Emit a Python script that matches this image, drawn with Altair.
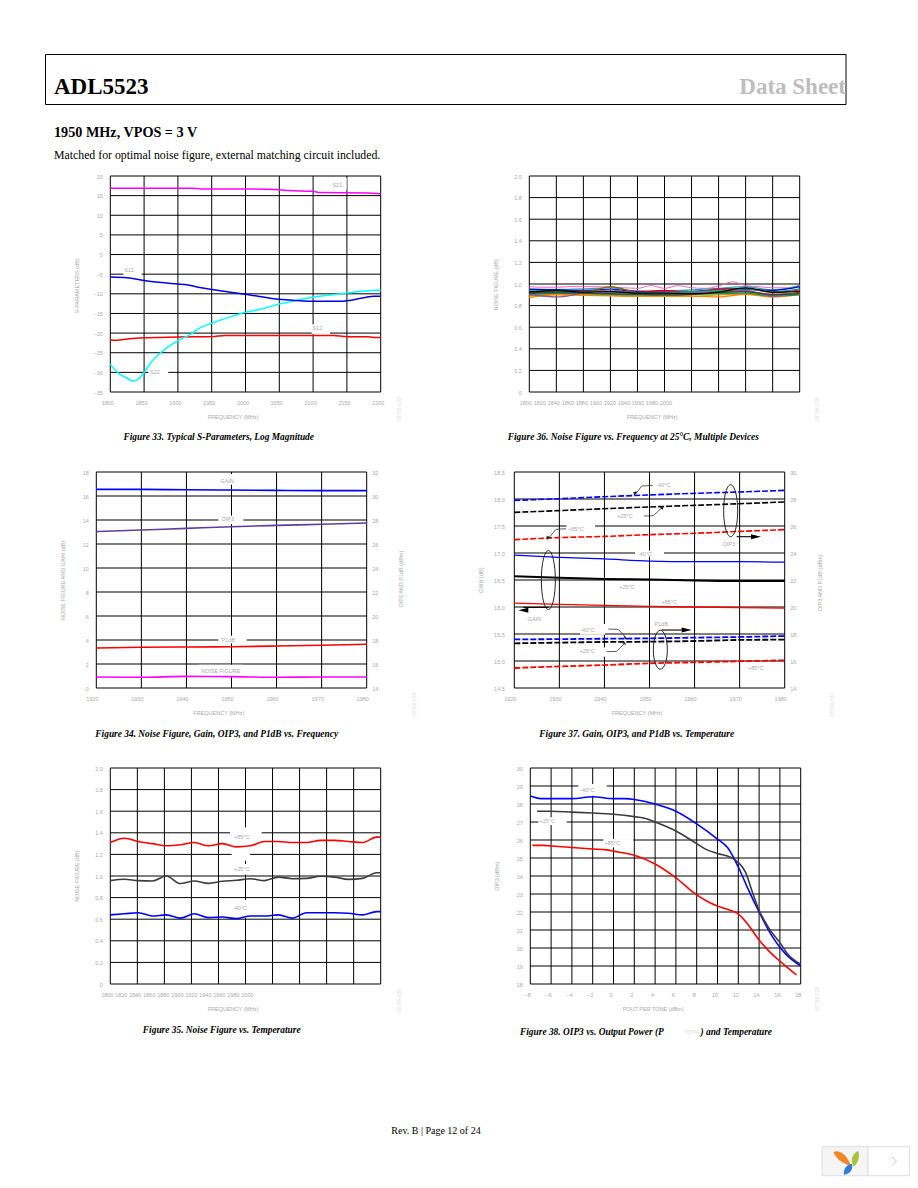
import altair as alt
import pandas as pd

# ---------- data ----------
s_x_s21 = [1800, 1920, 1935, 2000, 2050, 2065, 2100, 2110, 2180, 2200]
s21 = [16.9, 16.9, 16.7, 16.7, 16.5, 16.3, 16.1, 15.8, 15.7, 15.5]
s_x_s11 = [1800, 1825, 1850, 1875, 1900, 1910, 1930, 1950, 2000, 2050, 2075, 2100, 2140, 2175, 2190, 2200]
s11 = [-5.7, -5.9, -6.6, -7.1, -7.5, -7.6, -8.3, -8.9, -10.1, -11.4, -11.7, -11.9, -11.9, -11.0, -10.6, -10.6]
s_x_s22 = [1800, 1812, 1825, 1832, 1840, 1850, 1860, 1875, 1900, 1920, 1930, 1950, 1975, 2000, 2025, 2050, 2075, 2100, 2150, 2175, 2200]
s22 = [-27.9, -30.2, -31.5, -32.2, -31.9, -30.0, -27.5, -24.9, -21.9, -20.2, -18.9, -17.5, -16.0, -14.7, -13.8, -12.6, -11.7, -10.9, -9.8, -9.3, -9.0]
s_x_s12 = [1800, 1810, 1825, 1850, 1875, 1900, 1950, 1970, 2000, 2100, 2130, 2150, 2180, 2190, 2200]
s12 = [-21.8, -21.8, -21.5, -21.2, -21.1, -21.0, -20.9, -20.6, -20.6, -20.6, -20.6, -20.9, -20.9, -21.1, -21.1]

nf_x = [1800, 1839, 1877, 1916, 1954, 1993, 2032, 2070, 2109, 2147, 2186]
nf_series = [
    ("#e0a000", [.875, .900, .895, .890, .885, .885, .885, .900, .905, .890, .910]),
    ("#ff7f00", [.890, .905, .900, .895, .890, .895, .890, .880, .905, .880, .905]),
    ("#00a050", [.900, .915, .910, .905, .900, .900, .905, .910, .915, .890, .900]),
    ("#30a0c0", [.955, .950, .955, .965, .935, .935, .945, .960, .975, .945, .985]),
    ("#0000c0", [.950, .945, .940, .950, .930, .925, .930, .945, .950, .940, .975]),
    ("#e00000", [.930, .925, .935, .930, .925, .940, .920, .955, .960, .920, .945]),
    ("#8060a0", [.905, .880, .915, .945, .910, .905, .915, .935, .940, .885, .925]),
    ("#806000", [.915, .930, .920, .975, .920, .905, .930, .930, .930, .905, .915]),
    ("#20a0a0", [.940, .935, .930, .925, .915, .920, .925, .940, .955, .930, .955]),
    ("#404040", [.910, .920, .915, .910, .905, .900, .905, .920, .930, .900, .910]),
    ("#000000", [.925, .940, .925, .930, .915, .915, .910, .925, .965, .925, .930]),
]
nf_pink_x = [1800, 1819, 1839, 1858, 1877, 1896, 1916, 1935, 1954, 1974, 1993, 2012, 2032, 2051, 2070, 2090, 2109, 2128, 2147, 2167, 2186]
nf_pink = [.975, .97, .97, .975, .975, .975, .97, .965, .96, .985, .96, .985, .965, .96, .98, 1.02, .985, .975, .965, .965, .985]

f_x = [1920, 1930, 1940, 1950, 1960, 1970, 1980]
f_gain = [16.55, 16.55, 16.52, 16.50, 16.47, 16.45, 16.45]
f_oip3 = [27.03, 27.17, 27.30, 27.44, 27.55, 27.64, 27.75]
f_p1db = [17.33, 17.39, 17.42, 17.44, 17.50, 17.56, 17.64]
f_nf = [.92, .89, .97, .95, .89, .92, .92]

t_oip3_m40 = [27.90, 28.02, 28.17, 28.30, 28.42, 28.52, 28.64]
t_oip3_25 = [27.01, 27.14, 27.28, 27.41, 27.53, 27.65, 27.78]
t_oip3_85 = [24.99, 25.14, 25.23, 25.36, 25.46, 25.60, 25.73]
t_gain_m40 = [16.96, 16.92, 16.89, 16.85, 16.84, 16.84, 16.83]
t_gain_25 = [16.57, 16.54, 16.52, 16.51, 16.49, 16.48, 16.48]
t_gain_85 = [16.07, 16.05, 16.03, 16.01, 16.00, 15.99, 15.98]
t_p1_m40 = [17.60, 17.62, 17.65, 17.68, 17.73, 17.78, 17.85]
t_p1_25 = [17.31, 17.36, 17.41, 17.43, 17.48, 17.56, 17.58]
t_p1_85 = [15.48, 15.60, 15.70, 15.83, 15.90, 15.98, 16.05]

n_x = [1800, 1820, 1840, 1860, 1880, 1900, 1920, 1940, 1960, 1980, 2000, 2020, 2040, 2060, 2080, 2100, 2120, 2140, 2160, 2180, 2186]
n_85 = [1.31, 1.35, 1.32, 1.30, 1.28, 1.29, 1.31, 1.28, 1.30, 1.27, 1.28, 1.32, 1.32, 1.31, 1.31, 1.33, 1.33, 1.32, 1.31, 1.36, 1.36]
n_25 = [.957, .97, .957, .954, 1.0, .93, .954, .932, .951, .96, .975, .957, .99, .975, .978, .997, .99, .969, .978, 1.03, 1.03]
n_m40 = [.64, .65, .66, .63, .64, .61, .65, .615, .62, .605, .63, .63, .64, .61, .66, .66, .66, .655, .64, .67, .67]

o_x_b = [-8, -7, -6, -4, -2, 0, 1.2, 2, 4, 6, 8, 10, 11, 12, 13, 14, 15, 16.5, 18]
o_b = [28.44, 28.3, 28.3, 28.3, 28.4, 28.3, 28.3, 28.25, 28.0, 27.6, 26.9, 26.05, 25.55, 24.5, 23.2, 22.0, 20.9, 19.7, 19.0]
o_x_k = [-7.35, -6, -4, -2, 0, 2, 3.1, 4, 6, 8, 9, 10, 11.4, 12, 12.7, 13.3, 14, 15, 16, 16.7, 18]
o_k = [27.6, 27.6, 27.55, 27.5, 27.43, 27.3, 27.2, 27.0, 26.5, 25.8, 25.45, 25.25, 25.0, 24.75, 24.2, 23.2, 22.1, 21.05, 20.3, 19.7, 19.1]
o_x_r = [-7.8, -6.75, -6, -4, -2, -.65, 0, 2, 4, 6, 8, 9, 10, 11.2, 12, 13, 14, 15, 16, 17.6]
o_r = [25.7, 25.7, 25.67, 25.58, 25.5, 25.45, 25.38, 25.15, 24.67, 23.9, 22.95, 22.6, 22.33, 22.1, 21.9, 21.25, 20.45, 19.8, 19.27, 18.5]

# ---------- page geometry ----------
COLX = [8.0, 459.0]
COLW = [451, 451]
ROWY = [8.0, 175.7, 471.3, 767.3]
ROWH = [167.7, 295.6, 296.0, 408.7]
GREY = "#a8a8a8"
SANS = "Liberation Sans"
SERIF = "Liberation Serif"


def df(**kw):
    return pd.DataFrame(kw)


class Panel:
    def __init__(self, col, row, left, top, xd, yd, ryd=None):
        self.cx, self.cy = COLX[col], ROWY[row]
        self.W, self.H = COLW[col], ROWH[row]
        self.L = left - self.cx
        self.R = self.L + 270.4
        self.T = top - self.cy
        self.B = self.T + 216
        self.xs = alt.Scale(domain=xd, range=[self.L, self.R], nice=False, zero=False)
        self.ys = alt.Scale(domain=yd, range=[self.B, self.T], nice=False, zero=False)
        self.rs = None
        if ryd:
            self.rs = alt.Scale(domain=ryd, range=[self.B, self.T], nice=False, zero=False)
        self.layers = []

    def grid(self, xg, yg, xticks, yticks, xtitle, ytitle, xpos, ypos, xfmt="d", yexpr=None,
             lab_dx=-4, gap=8):
        base = dict(ticks=False, domain=False, grid=False, labelFont=SANS, labelFontSize=5.5,
                    labelColor=GREY, labelOverlap=False, labelFlush=False, labelBound=False,
                    titleFont=SANS, titleFontSize=5.5, titleColor=GREY, titleFontWeight="normal",
                    titleBaseline="middle", titleAlign="center")
        xa = alt.Axis(orient="bottom", values=xticks, offset=-(self.H - self.B), labelPadding=10.5,
                      labelBaseline="middle", labelOffset=lab_dx, format=xfmt, title=xtitle,
                      titleX=xpos[0] - self.cx, titleY=xpos[1] - (self.cy + self.B),
                      titleAngle=0, **base)
        ykw = dict(labelExpr=yexpr) if yexpr else dict(format="d")
        ya = alt.Axis(orient="left", values=yticks, offset=-(self.L - gap), labelPadding=0,
                      labelBaseline="middle", title=ytitle, titleAngle=270,
                      titleX=ypos[0] - (self.cx + self.L - gap), titleY=ypos[1] - self.cy,
                      **ykw, **base)
        self.base = base
        self.layers.append(alt.Chart(df(g=xg)).mark_rule(color="black", strokeWidth=1).encode(
            x=alt.X("g:Q", scale=self.xs, axis=xa), y=alt.value(self.T), y2=alt.value(self.B)))
        self.layers.append(alt.Chart(df(g=yg)).mark_rule(color="black", strokeWidth=1).encode(
            y=alt.Y("g:Q", scale=self.ys, axis=ya), x=alt.value(self.L), x2=alt.value(self.R)))

    def right_axis(self, ticks, title, pos, gap=5):
        return alt.Axis(orient="right", values=ticks, offset=-(self.W - self.R) + gap, labelPadding=0,
                        labelBaseline="middle", format="d", title=title, titleAngle=270,
                        titleX=pos[0] - (self.cx + self.R + gap), titleY=pos[1] - self.cy, **self.base)

    def patches(self, boxes):
        if boxes:
            self.layers.append(alt.Chart(df(
                x1=[b[0] - self.cx for b in boxes], x2=[b[2] - self.cx for b in boxes],
                y1=[b[1] - self.cy for b in boxes], y2=[b[3] - self.cy for b in boxes]
            )).mark_rect(color="white").encode(
                x=alt.X("x1:Q", scale=None, axis=None), x2="x2:Q",
                y=alt.Y("y1:Q", scale=None, axis=None), y2="y2:Q"))

    def line(self, xv, yv, color, width=1.5, dash=None, right=False, axis=None, interp="monotone"):
        kw = dict(color=color, strokeWidth=width, interpolate=interp)
        if dash:
            kw["strokeDash"] = dash
        self.layers.append(alt.Chart(df(x=xv, y=yv)).mark_line(**kw).encode(
            x=alt.X("x:Q", scale=self.xs, axis=None),
            y=alt.Y("y:Q", scale=self.rs if right else self.ys, axis=axis)))

    def texts(self, items, size=5.5, color=GREY, font=SANS, align="center", angle=None,
              style=None, weight=None, baseline="middle"):
        kw = dict(font=font, fontSize=size, color=color, align=align, baseline=baseline)
        if angle is not None:
            kw["angle"] = angle
        if style:
            kw["fontStyle"] = style
        if weight:
            kw["fontWeight"] = weight
        self.layers.append(alt.Chart(df(
            t=[i[0] for i in items],
            px=[i[1] - self.cx for i in items], py=[i[2] - self.cy for i in items]
        )).mark_text(**kw).encode(
            x=alt.X("px:Q", scale=None, axis=None), y=alt.Y("py:Q", scale=None, axis=None),
            text="t:N"))

    def pline(self, pts, color="black", width=1.0):
        self.layers.append(alt.Chart(df(
            px=[p[0] - self.cx for p in pts], py=[p[1] - self.cy for p in pts], o=list(range(len(pts)))
        )).mark_line(color=color, strokeWidth=width).encode(
            x=alt.X("px:Q", scale=None, axis=None), y=alt.Y("py:Q", scale=None, axis=None), order="o:Q"))

    def shape(self, page_x, page_y, path, fill=None, stroke=None, width=1.0):
        kw = dict(shape=path, size=4, filled=fill is not None, opacity=1)
        if fill:
            kw["fill"] = fill
        else:
            kw["fill"] = "transparent"
        if stroke:
            kw["stroke"] = stroke
            kw["strokeWidth"] = width
        else:
            kw["strokeWidth"] = 0
        self.layers.append(alt.Chart(df(px=[page_x - self.cx], py=[page_y - self.cy])).mark_point(**kw).encode(
            x=alt.X("px:Q", scale=None, axis=None), y=alt.Y("py:Q", scale=None, axis=None)))

    def chart(self):
        return alt.layer(*self.layers).resolve_scale(x="independent", y="independent").properties(
            width=self.W, height=self.H)


def zoomer(ox, oy):
    return lambda zx, zy: (ox + zx / 3, oy + zy / 3)


def zbox(z, a, b, c, d):
    return z(a, b) + z(c, d)


def ztext(z, t, a, b):
    return (t,) + z(a, b)


def ellipse(w, h):
    return f"M{-w/2},0A{w/2},{h/2} 0 1,1 {w/2},0A{w/2},{h/2} 0 1,1 {-w/2},0Z"


FREQ = "FREQUENCY (MHz)"
fmt2 = "datum.value==0?'0':format(datum.value,'.1f')"
fmt1 = "format(datum.value,'.1f')"

# ---------- header cells ----------
h1 = Panel(0, 0, 110, 200, [0, 1], [0, 1])
h1.layers.append(alt.Chart(df(a=[0])).mark_rect(fill="transparent", stroke="black", strokeWidth=1).encode(
    x=alt.value(45.5 - 8), x2=alt.value(846 - 8), y=alt.value(54.5 - 8), y2=alt.value(104.5 - 8)))
h1.texts([("ADL5523", 54, 94.3)], size=23, color="black", font=SERIF, align="left", weight="bold", baseline="alphabetic")
h1.texts([("1950 MHz, VPOS = 3 V", 54, 136.7)], size=14.2, color="black", font=SERIF, align="left", weight="bold", baseline="alphabetic")
h1.texts([("Matched for optimal noise figure, external matching circuit included.", 54, 159)],
         size=11.8, color="black", font=SERIF, align="left", baseline="alphabetic")
h2 = Panel(1, 0, 530, 200, [0, 1], [0, 1])
h2.texts([("Data Sheet", 846, 94.3)], size=23, color="#bdbdbd", font=SERIF, align="right", weight="bold", baseline="alphabetic")

CAP = dict(size=9.4, color="black", font=SERIF, style="italic", weight="bold")

# ---------- Figure 33 ----------
z = zoomer(40, 50)
p1 = Panel(0, 1, 110.3, 175.7, [1800, 2200], [-35, 20])
p1.grid(list(range(1800, 2201, 50)), list(range(-35, 21, 5)), list(range(1800, 2201, 50)),
        list(range(-35, 21, 5)), FREQ, "S-PARAMETERS (dB)", (232.7, 415.7), (76, 285), lab_dx=-3)
p1.patches([zbox(z, 876, 383, 920, 418), zbox(z, 250, 650, 305, 676), zbox(z, 815, 822, 870, 851), zbox(z, 325, 955, 385, 978)])
p1.line(s_x_s21, s21, "#ff00ff")
p1.line(s_x_s12, s12, "#ff0000")
p1.line(s_x_s22, s22, "#00ffff")
p1.line(s_x_s11, s11, "#0000e0")
p1.texts([ztext(z, "S21", 892, 405), ztext(z, "S11", 267, 660), ztext(z, "S12", 832, 834), ztext(z, "S22", 345, 966)])
p1.texts([("Figure 33. Typical S-Parameters, Log Magnitude", 218.7, 436.7)], **CAP)
p1.texts([("08769-033", 399, 409)], size=5, color="#dddddd", angle=270)

# ---------- Figure 36 ----------
p2 = Panel(1, 1, 529.3, 175.7, [1800, 2186], [0, 2])
p2.grid([1800 + 38.6 * i for i in range(11)], [i / 5 for i in range(11)], list(range(1800, 2001, 20)),
        [i / 5 for i in range(11)], FREQ, "NOISE FIGURE (dB)", (651.7, 415.7), (495.3, 284), yexpr=fmt2, lab_dx=-4)
p2.line(nf_pink_x, nf_pink, "#ff60c0", width=1)
for col, vals in nf_series:
    p2.line(nf_x, vals, col, width=1.3)
p2.texts([("Figure 36. Noise Figure vs. Frequency at 25°C, Multiple Devices", 633.3, 436.7)], **CAP)
p2.texts([("08769-036", 816.7, 409)], size=5, color="#dddddd", angle=270)

# ---------- Figure 34 ----------
z = zoomer(50, 460)
p3 = Panel(0, 2, 96.3, 471.3, [1920, 1980], [0, 18], [14, 32])
p3.grid(f_x, list(range(0, 19, 2)), f_x, list(range(0, 19, 2)), FREQ, "NOISE FIGURE AND GAIN (dB)",
        (218.3, 712), (62.3, 579.3), lab_dx=-4.5)
p3.patches([zbox(z, 505, 40, 580, 72), zbox(z, 505, 165, 580, 190), zbox(z, 505, 525, 590, 548), zbox(z, 445, 612, 580, 646)])
p3.line(f_x, f_gain, "#0000ff", width=1.6)
p3.line(f_x, f_oip3, "#5b3f9e", width=1.6, right=True,
        axis=p3.right_axis(list(range(14, 33, 2)), "OIP3 AND P1dB (dBm)", (400.7, 578)))
p3.line(f_x, f_p1db, "#ff0000", width=1.6, right=True)
p3.line(f_x, f_nf, "#ff00ff", width=1.6)
p3.texts([ztext(z, "GAIN", 532, 62), ztext(z, "OIP3", 533, 176), ztext(z, "P1dB", 535, 537), ztext(z, "NOISE FIGURE", 512, 630)])
p3.texts([("Figure 34. Noise Figure, Gain, OIP3, and P1dB vs. Frequency", 216.7, 733)], **CAP)
p3.texts([("08769-034", 414, 704)], size=5, color="#dddddd", angle=270)

# ---------- Figure 37 ----------
z = zoomer(470, 460)
p4 = Panel(1, 2, 514.3, 471.3, [1920, 1980], [14.5, 18.5], [14, 30])
p4.grid(f_x, [14.5 + .5 * i for i in range(9)], f_x, [14.5 + .5 * i for i in range(9)], FREQ, "GAIN (dB)",
        (636.7, 712), (480, 579), yexpr=fmt1, lab_dx=-4.5, gap=10)
p4.patches([zbox(z, 290, 190, 375, 214), zbox(z, 495, 270, 582, 288), zbox(z, 755, 238, 800, 260),
            zbox(z, 330, 490, 405, 522), zbox(z, 330, 560, 405, 588)])
D = [6, 2]
p4.line(f_x, t_oip3_m40, "#0000ff", dash=D, width=1.6, right=True,
        axis=p4.right_axis(list(range(14, 31, 2)), "OIP3 AND P1dB (dBm)", (819, 581.7)))
p4.line(f_x, t_oip3_25, "#000000", dash=D, width=1.6, right=True)
p4.line(f_x, t_oip3_85, "#ff0000", dash=D, width=1.6, right=True)
p4.line(f_x, t_gain_m40, "#0000ff", width=1.3)
p4.line(f_x, t_gain_25, "#000000", width=2)
p4.line(f_x, t_gain_85, "#ff0000", width=1.3)
p4.line(f_x, t_p1_m40, "#0000ff", dash=D, width=1.8, right=True)
p4.line(f_x, t_p1_25, "#000000", dash=D, width=1.8, right=True)
p4.line(f_x, t_p1_85, "#ff0000", dash=D, width=1.8, right=True)
for cx_, cy_, h_ in [(782, 150, 52), (235, 358, 59), (571, 567, 39)]:
    a, b = z(cx_, cy_)
    p4.shape(a, b, ellipse(14, h_), stroke="#202020", width=1)
TR = "M-5,-2.5L5,0L-5,2.5Z"
TL = "M5,-2.5L-5,0L5,2.5Z"
for pts, hd, sh in [([(800, 228), (850, 228)], (858, 228), TR), ([(575, 508), (640, 508)], (650, 508), TR),
                    ([(236, 440), (160, 440)], (160, 449), TL)]:
    p4.pline([z(*q) for q in pts], width=1.1)
    a, b = z(*hd)
    p4.shape(a, b, sh, fill="black")
for pts, hd, sh in [([(548, 74), (515, 76), (497, 100)], (496, 100), "M-2,-2L2,-2.5L-1,2Z"),
                    ([(522, 166), (550, 165), (575, 142)], (575, 142), "M2,-2L-2,-1L1,2Z"),
                    ([(288, 204), (258, 206), (236, 232)], (236, 232), "M-2,-2L2,-1L-2,2Z"),
                    ([(415, 505), (445, 506), (467, 530)], (467, 530), "M-2,-2L2,2L-1,2Z"),
                    ([(410, 573), (440, 572), (462, 550)], (462, 550), "M1,-2L2,1L-2,-1Z")]:
    p4.pline([z(*q) for q in pts], color="#303030", width=0.8)
    a, b = z(*hd)
    p4.shape(a, b, sh, fill="#202020")
p4.texts([ztext(z, t, a, b) for t, a, b in [
    ("-40°C", 580, 74), ("+25°C", 465, 165), ("+85°C", 318, 204), ("-40°C", 525, 279), ("+25°C", 470, 378),
    ("+85°C", 598, 423), ("GAIN", 193, 474), ("OIP3", 777, 249), ("P1dB", 574, 489), ("-40°C", 352, 507),
    ("+25°C", 352, 572), ("+85°C", 857, 623)]])
p4.texts([("Figure 37. Gain, OIP3, and P1dB vs. Temperature", 636.7, 733)], **CAP)
p4.texts([("08769-037", 831.7, 704)], size=5, color="#dddddd", angle=270)

# ---------- Figure 35 ----------
z = zoomer(50, 755)
p5 = Panel(0, 3, 110.3, 767.3, [1800, 2186], [0, 2])
p5.grid([1800 + 38.6 * i for i in range(11)], [i / 5 for i in range(11)], list(range(1800, 2001, 20)),
        [i / 5 for i in range(11)], FREQ, "NOISE FIGURE (dB)", (232.7, 1008), (76, 875), yexpr=fmt2, lab_dx=-3.5)
p5.patches([zbox(z, 540, 215, 635, 262), zbox(z, 545, 262, 600, 315), zbox(z, 545, 325, 600, 357), zbox(z, 545, 433, 600, 487)])
p5.line(n_x, n_85, "#ff0000", width=1.6)
p5.line(n_x, n_25, "#3c3c3c", width=1.6)
p5.line(n_x, n_m40, "#0000ff", width=1.6)
p5.texts([ztext(z, "+85°C", 575, 243), ztext(z, "+25°C", 575, 340), ztext(z, "-40°C", 570, 458)])
p5.texts([("Figure 35. Noise Figure vs. Temperature", 221.7, 1029)], **CAP)
p5.texts([("08769-035", 399, 1000)], size=5, color="#dddddd", angle=270)
p5.texts([("Rev. B | Page 12 of 24", 436, 1130.7)], size=10, color="black", font=SERIF)

# ---------- Figure 38 ----------
z = zoomer(470, 755)
p6 = Panel(1, 3, 530.3, 767.3, [-8, 18], [18, 30])
p6.grid(list(range(-8, 19, 2)), list(range(18, 31)), list(range(-8, 19, 2)), list(range(18, 31)),
        "POUT PER TONE (dBm)", "OIP3 (dBm)", (652.7, 1008), (496, 875), lab_dx=-3)
p6.patches([zbox(z, 325, 85, 410, 120), zbox(z, 205, 185, 290, 208), zbox(z, 400, 250, 490, 275)])
p6.line(o_x_b, o_b, "#0000ff", width=1.6)
p6.line(o_x_k, o_k, "#3c3c3c", width=1.6)
p6.line(o_x_r, o_r, "#ff0000", width=1.6)
p6.texts([ztext(z, "-40°C", 352, 104), ztext(z, "+25°C", 232, 195), ztext(z, "+85°C", 427, 263)])
p6.texts([("Figure 38. OIP3 vs. Output Power (P", 520, 1031)], align="left", **CAP)
p6.texts([("TOTAL", 692, 1031)], size=5, color="#dddddd")
p6.texts([(") and Temperature", 700.5, 1031)], align="left", **CAP)
p6.texts([("08769-038", 816.7, 998)], size=5, color="#dddddd", angle=270)

# ---------- viewer widget in the corner ----------
p6.layers.append(alt.Chart(df(x1=[822 - 459, 868 - 459], x2=[868 - 459, 909.5 - 459], y1=[1146 - 767.3] * 2, y2=[1175 - 767.3] * 2,
                              f=["#f5f5f5", "#ffffff"])).mark_rect(stroke="#dddddd", strokeWidth=1).encode(
    x=alt.X("x1:Q", scale=None, axis=None), x2="x2:Q", y=alt.Y("y1:Q", scale=None, axis=None), y2="y2:Q",
    fill=alt.Fill("f:N", scale=None)))
p6.shape(843, 1158, "M-9,-7C-4,-9 2,-5 5,1C7,4 8,7 8,7C3,6 -3,3 -7,-2C-9,-5 -10,-6 -9,-7Z", fill="#f0852a")
p6.shape(855, 1158, "M3,-8C5,-4 4,3 -1,8C-4,4 -5,-3 3,-8Z", fill="#a9c23f")
p6.shape(848, 1168, "M4,-5C5,0 3,5 -4,6C-5,1 -2,-4 4,-5Z", fill="#2f7fd0")
p6.shape(894, 1160.5, "M-2.5,-4.5L2.5,0L-2.5,4.5", stroke="#bbbbbb", width=0.8)

cells = [h1, h2, p1, p2, p3, p4, p5, p6]
chart = alt.concat(*[c.chart() for c in cells], columns=2, spacing=0, bounds="flush").properties(
    padding=0, background="white").configure_view(stroke=None)

chart.save("out.html", embed_options={"renderer": "svg", "actions": False})
